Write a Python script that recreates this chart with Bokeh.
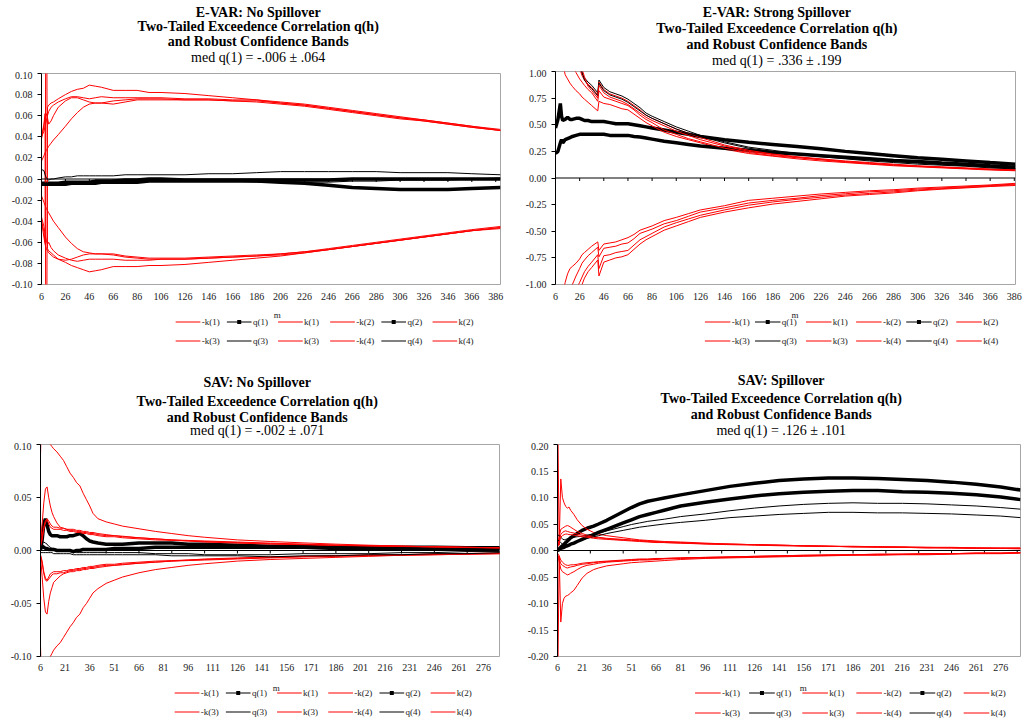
from bokeh.plotting import figure
from bokeh.models import (Range1d, FixedTicker, NumeralTickFormatter, Span, Label)
from bokeh.layouts import column, row
from bokeh.embed import file_html
from bokeh.resources import INLINE
from bokeh.core.properties import value

SERIES = ["-k(1)", "q(1)", "k(1)", "-k(2)", "q(2)", "k(2)",
          "-k(3)", "q(3)", "k(3)", "-k(4)", "q(4)", "k(4)"]

TOP_XTICKS = [6, 26, 46, 66, 86, 106, 126, 146, 166, 186, 206, 226, 246, 266, 286, 306, 326, 346, 366, 386]
BOTTOM_XTICKS = [6, 21, 36, 51, 66, 81, 96, 111, 126, 141, 156, 171, 186, 201, 216, 231, 246, 261, 276]
BOTTOM_XMARKS = [6, 26, 46, 66, 86, 106, 126, 146, 166, 186, 206, 226, 246, 266, 286]
P1_YTICKS = [-0.10, -0.08, -0.06, -0.04, -0.02, 0.0, 0.02, 0.04, 0.06, 0.08, 0.10]
P2_YTICKS = [-1.0, -0.75, -0.5, -0.25, 0.0, 0.25, 0.5, 0.75, 1.0]
P3_YTICKS = [-0.10, -0.05, 0.0, 0.05, 0.10]
P4_YTICKS = [-0.20, -0.15, -0.10, -0.05, 0.0, 0.05, 0.10, 0.15, 0.20]

# ---------------- Panel 1: E-VAR No Spillover ----------------
P1_M = [6, 8, 9, 10, 11, 12, 14, 16, 20, 26, 31, 36, 41, 46, 51, 56, 66, 76, 86, 96, 106, 126, 146, 166, 186, 206, 226, 246, 266, 286, 306, 326, 346, 366, 390]
P1_K1 = [0.040, 0.052, 0.062, -0.30, 0.068, 0.070, 0.072, 0.073, 0.076, 0.080, 0.083, 0.085, 0.086, 0.089, 0.088, 0.087, 0.084, 0.084, 0.084, 0.082, 0.082, 0.081, 0.079, 0.077, 0.075, 0.072, 0.070, 0.067, 0.064, 0.061, 0.058, 0.056, 0.053, 0.050, 0.046]
P1_K2 = [0.040, 0.045, 0.050, 0.055, 0.060, 0.064, 0.068, 0.070, 0.073, 0.076, 0.078, 0.078, 0.077, 0.076, 0.077, 0.078, 0.077, 0.077, 0.077, 0.077, 0.077, 0.076, 0.076, 0.075, 0.075, 0.073, 0.071, 0.068, 0.065, 0.062, 0.059, 0.056, 0.053, 0.050, 0.047]
P1_K3 = [0.038, 0.050, 0.058, 0.062, 0.058, 0.052, 0.055, 0.060, 0.068, 0.074, 0.077, 0.077, 0.075, 0.073, 0.072, 0.072, 0.074, 0.075, 0.076, 0.076, 0.076, 0.075, 0.075, 0.074, 0.074, 0.072, 0.070, 0.067, 0.064, 0.061, 0.058, 0.055, 0.052, 0.049, 0.046]
P1_K4 = [0.017, 0.022, 0.025, 0.027, 0.029, 0.031, 0.034, 0.037, 0.042, 0.050, 0.057, 0.063, 0.068, 0.071, 0.072, 0.072, 0.071, 0.073, 0.075, 0.075, 0.075, 0.075, 0.075, 0.074, 0.073, 0.071, 0.069, 0.066, 0.063, 0.060, 0.057, 0.055, 0.052, 0.049, 0.046]
P1_NK1 = [-0.040, -0.050, -0.060, 0.30, -0.066, -0.068, -0.070, -0.072, -0.076, -0.079, -0.082, -0.084, -0.086, -0.088, -0.087, -0.086, -0.083, -0.083, -0.083, -0.082, -0.082, -0.081, -0.079, -0.077, -0.075, -0.073, -0.070, -0.067, -0.064, -0.061, -0.058, -0.055, -0.052, -0.049, -0.046]
P1_NK2 = [-0.040, -0.055, -0.062, -0.066, -0.068, -0.070, -0.072, -0.074, -0.076, -0.077, -0.076, -0.074, -0.072, -0.071, -0.071, -0.071, -0.072, -0.074, -0.075, -0.076, -0.076, -0.076, -0.075, -0.074, -0.073, -0.071, -0.069, -0.067, -0.064, -0.061, -0.058, -0.055, -0.052, -0.049, -0.047]
P1_NK3 = [-0.036, -0.045, -0.052, -0.058, -0.062, -0.060, -0.065, -0.068, -0.072, -0.075, -0.077, -0.078, -0.077, -0.076, -0.076, -0.076, -0.076, -0.077, -0.077, -0.077, -0.076, -0.076, -0.075, -0.074, -0.073, -0.072, -0.070, -0.067, -0.064, -0.061, -0.058, -0.055, -0.052, -0.049, -0.046]
P1_NK4 = [-0.016, -0.022, -0.025, -0.028, -0.030, -0.032, -0.036, -0.040, -0.046, -0.055, -0.061, -0.066, -0.069, -0.070, -0.071, -0.071, -0.071, -0.073, -0.074, -0.075, -0.075, -0.075, -0.074, -0.073, -0.072, -0.071, -0.069, -0.066, -0.063, -0.060, -0.057, -0.054, -0.051, -0.048, -0.045]
P1_Q1 = [-0.004, -0.004, -0.004, -0.004, -0.004, -0.004, -0.004, -0.004, -0.004, -0.003, -0.003, -0.003, -0.003, -0.003, -0.002, -0.002, -0.002, -0.001, -0.001, 0.000, 0.000, -0.001, -0.001, -0.001, -0.001, -0.001, -0.001, -0.001, 0.000, 0.000, 0.000, 0.000, 0.000, 0.000, 0.000]
P1_Q2 = [-0.005, -0.005, -0.005, -0.005, -0.005, -0.005, -0.005, -0.005, -0.005, -0.005, -0.004, -0.004, -0.004, -0.004, -0.004, -0.003, -0.003, -0.003, -0.003, -0.002, -0.002, -0.002, -0.002, -0.002, -0.002, -0.003, -0.004, -0.006, -0.008, -0.009, -0.010, -0.010, -0.010, -0.009, -0.008]
P1_Q3 = [0.009, 0.008, 0.004, 0.001, 0.000, -0.001, 0.000, 0.000, 0.001, 0.002, 0.002, 0.003, 0.003, 0.003, 0.003, 0.003, 0.003, 0.004, 0.004, 0.004, 0.004, 0.004, 0.005, 0.005, 0.006, 0.007, 0.007, 0.007, 0.007, 0.007, 0.006, 0.006, 0.006, 0.005, 0.004]
P1_Q4 = [-0.006, -0.006, -0.006, -0.006, -0.005, -0.005, -0.005, -0.005, -0.005, -0.005, -0.004, -0.004, -0.004, -0.004, -0.003, -0.003, -0.003, -0.002, -0.002, -0.002, -0.001, -0.001, -0.002, -0.002, -0.003, -0.003, -0.003, -0.003, -0.002, -0.002, -0.001, -0.001, -0.001, 0.000, 0.001]

# ---------------- Panel 2: E-VAR Strong Spillover ----------------
P2_M = [6, 8, 10, 11, 12, 14, 16, 18, 20, 23, 26, 28, 30, 33, 36, 41, 42, 46, 51, 56, 61, 66, 71, 76, 81, 86, 96, 106, 116, 126, 146, 166, 186, 206, 226, 246, 266, 286, 306, 326, 346, 366, 387]
P2_Q1 = [0.47, 0.55, 0.70, 0.58, 0.54, 0.55, 0.57, 0.55, 0.55, 0.56, 0.56, 0.55, 0.54, 0.54, 0.53, 0.53, 0.53, 0.53, 0.52, 0.51, 0.51, 0.51, 0.50, 0.49, 0.48, 0.47, 0.45, 0.43, 0.41, 0.39, 0.36, 0.335, 0.315, 0.295, 0.275, 0.25, 0.23, 0.21, 0.19, 0.175, 0.16, 0.145, 0.13]
P2_Q2 = [0.23, 0.25, 0.33, 0.36, 0.33, 0.36, 0.37, 0.38, 0.39, 0.40, 0.41, 0.41, 0.41, 0.41, 0.41, 0.41, 0.41, 0.41, 0.40, 0.40, 0.40, 0.40, 0.39, 0.385, 0.375, 0.365, 0.345, 0.33, 0.315, 0.30, 0.28, 0.26, 0.24, 0.225, 0.21, 0.195, 0.18, 0.165, 0.155, 0.14, 0.13, 0.115, 0.10]
P2_Q3 = [1.5, 1.5, 1.5, 1.5, 1.5, 1.5, 1.5, 1.4, 1.3, 1.15, 1.05, 0.98, 0.94, 0.90, 0.87, 0.80, 0.92, 0.85, 0.81, 0.79, 0.77, 0.74, 0.70, 0.66, 0.61, 0.58, 0.53, 0.48, 0.44, 0.40, 0.34, 0.29, 0.26, 0.23, 0.205, 0.185, 0.17, 0.155, 0.14, 0.125, 0.115, 0.10, 0.09]
P2_Q4 = [1.5, 1.5, 1.5, 1.5, 1.5, 1.5, 1.5, 1.4, 1.3, 1.2, 1.08, 1.00, 0.92, 0.87, 0.84, 0.77, 0.89, 0.82, 0.78, 0.76, 0.74, 0.71, 0.67, 0.63, 0.59, 0.56, 0.51, 0.46, 0.42, 0.39, 0.33, 0.28, 0.25, 0.22, 0.20, 0.18, 0.16, 0.145, 0.13, 0.12, 0.11, 0.095, 0.085]
P2_K1 = [1.5, 1.4, 1.3, 1.2, 1.08, 0.97, 0.93, 0.89, 0.86, 0.82, 0.79, 0.76, 0.74, 0.71, 0.68, 0.63, 0.72, 0.70, 0.69, 0.67, 0.65, 0.64, 0.60, 0.56, 0.52, 0.49, 0.43, 0.39, 0.36, 0.33, 0.27, 0.23, 0.205, 0.18, 0.16, 0.145, 0.13, 0.115, 0.105, 0.095, 0.085, 0.075, 0.068]
P2_K2 = [1.5, 1.5, 1.5, 1.4, 1.35, 1.25, 1.17, 1.10, 1.05, 0.99, 0.93, 0.90, 0.87, 0.83, 0.80, 0.72, 0.82, 0.76, 0.74, 0.72, 0.70, 0.68, 0.64, 0.59, 0.55, 0.52, 0.45, 0.41, 0.37, 0.34, 0.28, 0.24, 0.21, 0.19, 0.17, 0.15, 0.135, 0.12, 0.11, 0.10, 0.09, 0.08, 0.072]
P2_K3 = [1.5, 1.5, 1.5, 1.5, 1.5, 1.5, 1.5, 1.5, 1.5, 1.2, 1.03, 0.96, 0.92, 0.88, 0.85, 0.78, 0.90, 0.83, 0.79, 0.77, 0.75, 0.72, 0.68, 0.64, 0.59, 0.56, 0.51, 0.46, 0.42, 0.38, 0.31, 0.26, 0.225, 0.20, 0.18, 0.16, 0.145, 0.13, 0.115, 0.105, 0.095, 0.085, 0.078]
P2_K4 = [1.5, 1.5, 1.5, 1.5, 1.5, 1.5, 1.5, 1.5, 1.5, 1.25, 1.10, 1.02, 0.95, 0.86, 0.82, 0.75, 0.87, 0.80, 0.76, 0.74, 0.72, 0.69, 0.65, 0.61, 0.57, 0.54, 0.49, 0.44, 0.40, 0.36, 0.30, 0.25, 0.22, 0.195, 0.175, 0.155, 0.14, 0.125, 0.11, 0.10, 0.09, 0.08, 0.075]
P2_NK1 = [-1.5, -1.4, -1.3, -1.2, -1.1, -0.98, -0.90, -0.85, -0.83, -0.80, -0.76, -0.72, -0.70, -0.67, -0.64, -0.60, -0.68, -0.62, -0.61, -0.60, -0.58, -0.56, -0.53, -0.49, -0.47, -0.45, -0.40, -0.37, -0.335, -0.30, -0.26, -0.21, -0.19, -0.17, -0.15, -0.135, -0.12, -0.11, -0.095, -0.085, -0.075, -0.065, -0.05]
P2_NK2 = [-1.5, -1.5, -1.4, -1.35, -1.3, -1.2, -1.15, -1.1, -1.0, -0.92, -0.85, -0.80, -0.77, -0.73, -0.70, -0.65, -0.74, -0.66, -0.65, -0.64, -0.62, -0.61, -0.57, -0.52, -0.50, -0.48, -0.43, -0.40, -0.36, -0.32, -0.28, -0.235, -0.21, -0.19, -0.165, -0.148, -0.13, -0.12, -0.104, -0.093, -0.082, -0.07, -0.057]
P2_NK3 = [-1.5, -1.5, -1.5, -1.5, -1.4, -1.35, -1.3, -1.2, -1.12, -1.05, -0.98, -0.93, -0.88, -0.83, -0.79, -0.72, -0.85, -0.73, -0.72, -0.70, -0.69, -0.68, -0.63, -0.58, -0.55, -0.52, -0.46, -0.42, -0.385, -0.35, -0.30, -0.255, -0.225, -0.20, -0.18, -0.16, -0.145, -0.13, -0.113, -0.10, -0.088, -0.076, -0.063]
P2_NK4 = [-1.5, -1.5, -1.5, -1.5, -1.5, -1.45, -1.4, -1.3, -1.2, -1.12, -1.05, -1.0, -0.94, -0.88, -0.84, -0.77, -0.92, -0.79, -0.77, -0.75, -0.74, -0.72, -0.67, -0.62, -0.58, -0.55, -0.49, -0.45, -0.41, -0.37, -0.32, -0.28, -0.245, -0.22, -0.195, -0.17, -0.155, -0.14, -0.12, -0.105, -0.093, -0.08, -0.07]

# ---------------- Panel 3: SAV No Spillover ----------------
P3_M = [6, 7, 8, 9, 10, 11, 12, 13, 14, 16, 18, 20, 22, 24, 26, 28, 30, 32, 34, 36, 38, 41, 46, 51, 56, 66, 76, 86, 96, 106, 126, 146, 166, 186, 206, 226, 246, 266, 286]
P3_K1 = [0.09, 0.15, 0.14, 0.13, 0.12, 0.11, 0.100, 0.098, 0.096, 0.093, 0.089, 0.085, 0.079, 0.073, 0.069, 0.064, 0.061, 0.054, 0.048, 0.042, 0.035, 0.030, 0.027, 0.025, 0.023, 0.0205, 0.018, 0.016, 0.014, 0.0125, 0.010, 0.0085, 0.0072, 0.006, 0.005, 0.0042, 0.0035, 0.003, 0.0026]
P3_K2 = [0.006, 0.025, 0.045, 0.058, 0.060, 0.050, 0.042, 0.036, 0.032, 0.026, 0.022, 0.021, 0.020, 0.020, 0.020, 0.019, 0.019, 0.018, 0.018, 0.017, 0.017, 0.016, 0.015, 0.014, 0.0135, 0.012, 0.011, 0.010, 0.0095, 0.009, 0.008, 0.007, 0.006, 0.005, 0.0045, 0.004, 0.0035, 0.003, 0.0025]
P3_K3 = [0.005, 0.012, 0.022, 0.028, 0.030, 0.028, 0.025, 0.023, 0.022, 0.022, 0.021, 0.021, 0.020, 0.019, 0.019, 0.018, 0.018, 0.017, 0.017, 0.016, 0.016, 0.015, 0.014, 0.014, 0.013, 0.012, 0.011, 0.010, 0.009, 0.0085, 0.0075, 0.0065, 0.0058, 0.005, 0.0045, 0.004, 0.0035, 0.003, 0.0026]
P3_K4 = [0.004, 0.010, 0.020, 0.026, 0.029, 0.025, 0.022, 0.021, 0.020, 0.020, 0.020, 0.019, 0.019, 0.018, 0.018, 0.017, 0.017, 0.016, 0.016, 0.015, 0.015, 0.014, 0.013, 0.013, 0.012, 0.011, 0.010, 0.0095, 0.009, 0.008, 0.007, 0.006, 0.0055, 0.0048, 0.0043, 0.0038, 0.0033, 0.0028, 0.0024]
P3_NK1 = [-0.09, -0.15, -0.14, -0.13, -0.12, -0.11, -0.100, -0.097, -0.094, -0.090, -0.087, -0.082, -0.077, -0.072, -0.068, -0.063, -0.060, -0.054, -0.050, -0.045, -0.040, -0.036, -0.031, -0.028, -0.025, -0.021, -0.018, -0.016, -0.014, -0.0125, -0.010, -0.0085, -0.0075, -0.0065, -0.0055, -0.0045, -0.004, -0.0035, -0.003]
P3_NK2 = [-0.005, -0.025, -0.045, -0.058, -0.060, -0.048, -0.040, -0.035, -0.030, -0.027, -0.024, -0.022, -0.021, -0.020, -0.020, -0.019, -0.019, -0.018, -0.018, -0.017, -0.017, -0.016, -0.015, -0.014, -0.0135, -0.012, -0.011, -0.010, -0.0095, -0.009, -0.008, -0.007, -0.006, -0.0055, -0.005, -0.0045, -0.004, -0.0035, -0.003]
P3_NK3 = [-0.005, -0.012, -0.022, -0.028, -0.029, -0.027, -0.025, -0.023, -0.022, -0.022, -0.021, -0.021, -0.020, -0.019, -0.019, -0.018, -0.018, -0.017, -0.017, -0.016, -0.016, -0.015, -0.014, -0.014, -0.013, -0.012, -0.011, -0.010, -0.009, -0.0085, -0.0075, -0.0065, -0.0058, -0.005, -0.0045, -0.004, -0.0035, -0.003, -0.0026]
P3_NK4 = [-0.004, -0.010, -0.020, -0.026, -0.028, -0.025, -0.022, -0.021, -0.020, -0.020, -0.020, -0.019, -0.019, -0.018, -0.018, -0.017, -0.017, -0.016, -0.016, -0.015, -0.015, -0.014, -0.013, -0.013, -0.012, -0.011, -0.010, -0.0095, -0.009, -0.008, -0.007, -0.006, -0.0055, -0.0048, -0.0043, -0.0038, -0.0033, -0.0028, -0.0024]
P3_Q1 = [0.000, 0.010, 0.025, 0.030, 0.024, 0.018, 0.015, 0.014, 0.014, 0.014, 0.013, 0.013, 0.013, 0.014, 0.014, 0.015, 0.016, 0.014, 0.011, 0.009, 0.008, 0.007, 0.006, 0.006, 0.006, 0.007, 0.007, 0.007, 0.006, 0.006, 0.005, 0.004, 0.004, 0.0035, 0.003, 0.003, 0.003, 0.0025, 0.0025]
P3_Q2 = [0.002, 0.004, 0.003, 0.002, 0.002, 0.001, 0.001, 0.001, 0.001, 0.000, 0.000, 0.000, 0.000, 0.000, -0.001, 0.000, 0.000, 0.001, 0.001, 0.001, 0.001, 0.001, 0.001, 0.002, 0.002, 0.002, 0.003, 0.003, 0.003, 0.003, 0.003, 0.003, 0.003, 0.002, 0.002, 0.002, 0.002, 0.002, 0.002]
P3_Q3 = [0.005, 0.007, 0.008, 0.007, 0.006, 0.004, 0.003, 0.002, 0.002, 0.001, 0.001, 0.000, 0.000, -0.001, -0.001, -0.002, -0.002, -0.002, -0.002, -0.002, -0.002, -0.002, -0.002, -0.002, -0.002, -0.002, -0.003, -0.003, -0.003, -0.004, -0.004, -0.004, -0.003, -0.003, -0.003, -0.002, -0.002, -0.001, -0.001]
P3_Q4 = [-0.002, -0.002, -0.002, -0.002, -0.002, -0.002, -0.002, -0.002, -0.003, -0.003, -0.003, -0.003, -0.003, -0.003, -0.004, -0.004, -0.004, -0.004, -0.004, -0.004, -0.004, -0.004, -0.004, -0.004, -0.004, -0.004, -0.004, -0.005, -0.005, -0.005, -0.005, -0.006, -0.005, -0.005, -0.004, -0.004, -0.003, -0.003, -0.002]

# ---------------- Panel 4: SAV Spillover ----------------
P4_M = [6, 7, 8, 9, 10, 11, 12, 13, 14, 16, 18, 21, 24, 28, 31, 36, 41, 46, 51, 56, 61, 66, 71, 81, 96, 111, 126, 141, 156, 171, 186, 201, 216, 231, 246, 261, 276, 288]
P4_Q1 = [0.000, 0.003, 0.006, 0.009, 0.012, 0.015, 0.018, 0.021, 0.024, 0.028, 0.032, 0.038, 0.042, 0.046, 0.050, 0.057, 0.065, 0.073, 0.081, 0.088, 0.093, 0.096, 0.099, 0.105, 0.113, 0.121, 0.127, 0.132, 0.135, 0.137, 0.137, 0.136, 0.134, 0.132, 0.129, 0.125, 0.120, 0.114]
P4_Q2 = [0.000, 0.002, 0.004, 0.005, 0.006, 0.008, 0.009, 0.010, 0.012, 0.014, 0.017, 0.021, 0.025, 0.030, 0.034, 0.040, 0.046, 0.052, 0.058, 0.064, 0.068, 0.072, 0.076, 0.084, 0.091, 0.097, 0.103, 0.107, 0.110, 0.112, 0.113, 0.113, 0.111, 0.110, 0.108, 0.105, 0.101, 0.096]
P4_Q3 = [0.030, 0.028, 0.025, 0.022, 0.020, 0.021, 0.022, 0.023, 0.024, 0.025, 0.026, 0.027, 0.029, 0.031, 0.033, 0.037, 0.041, 0.045, 0.049, 0.052, 0.055, 0.057, 0.059, 0.064, 0.069, 0.075, 0.080, 0.084, 0.087, 0.089, 0.090, 0.089, 0.089, 0.088, 0.086, 0.084, 0.081, 0.078]
P4_Q4 = [0.020, 0.018, 0.015, 0.012, 0.010, 0.010, 0.011, 0.012, 0.013, 0.015, 0.017, 0.020, 0.023, 0.026, 0.028, 0.032, 0.035, 0.038, 0.041, 0.044, 0.046, 0.048, 0.050, 0.053, 0.057, 0.062, 0.065, 0.068, 0.070, 0.072, 0.072, 0.071, 0.071, 0.070, 0.069, 0.067, 0.065, 0.062]
P4_K1 = [0.30, 0.01, 0.135, 0.10, 0.090, 0.083, 0.080, 0.082, 0.076, 0.068, 0.058, 0.047, 0.040, 0.034, 0.031, 0.028, 0.026, 0.024, 0.022, 0.020, 0.019, 0.018, 0.017, 0.016, 0.014, 0.012, 0.011, 0.010, 0.009, 0.008, 0.008, 0.007, 0.007, 0.006, 0.006, 0.005, 0.005, 0.005]
P4_K2 = [0.010, 0.025, 0.040, 0.042, 0.044, 0.046, 0.047, 0.046, 0.044, 0.040, 0.036, 0.032, 0.029, 0.026, 0.025, 0.023, 0.022, 0.021, 0.020, 0.019, 0.018, 0.017, 0.016, 0.015, 0.013, 0.012, 0.011, 0.010, 0.009, 0.008, 0.007, 0.007, 0.006, 0.006, 0.005, 0.005, 0.004, 0.004]
P4_K3 = [0.008, 0.018, 0.030, 0.034, 0.036, 0.037, 0.036, 0.035, 0.034, 0.033, 0.031, 0.029, 0.027, 0.025, 0.024, 0.022, 0.021, 0.020, 0.019, 0.018, 0.017, 0.016, 0.015, 0.014, 0.013, 0.012, 0.011, 0.010, 0.009, 0.008, 0.007, 0.007, 0.006, 0.005, 0.005, 0.004, 0.004, 0.004]
P4_K4 = [0.006, 0.014, 0.025, 0.028, 0.030, 0.031, 0.031, 0.030, 0.030, 0.029, 0.028, 0.026, 0.025, 0.023, 0.022, 0.021, 0.020, 0.019, 0.018, 0.017, 0.016, 0.015, 0.015, 0.014, 0.012, 0.011, 0.010, 0.009, 0.008, 0.008, 0.007, 0.006, 0.006, 0.005, 0.005, 0.004, 0.004, 0.003]
P4_NK1 = [-0.30, -0.01, -0.135, -0.10, -0.090, -0.086, -0.085, -0.083, -0.080, -0.075, -0.066, -0.052, -0.043, -0.036, -0.033, -0.029, -0.027, -0.025, -0.023, -0.022, -0.021, -0.020, -0.019, -0.017, -0.015, -0.014, -0.013, -0.012, -0.011, -0.010, -0.009, -0.009, -0.008, -0.008, -0.007, -0.006, -0.006, -0.005]
P4_NK2 = [-0.010, -0.020, -0.035, -0.040, -0.042, -0.044, -0.046, -0.045, -0.043, -0.040, -0.036, -0.031, -0.028, -0.026, -0.024, -0.022, -0.021, -0.020, -0.019, -0.018, -0.018, -0.017, -0.016, -0.015, -0.014, -0.013, -0.012, -0.011, -0.010, -0.009, -0.008, -0.008, -0.007, -0.007, -0.006, -0.005, -0.005, -0.004]
P4_NK3 = [-0.008, -0.015, -0.025, -0.028, -0.030, -0.032, -0.033, -0.032, -0.031, -0.030, -0.028, -0.026, -0.025, -0.023, -0.022, -0.021, -0.020, -0.019, -0.018, -0.017, -0.017, -0.016, -0.015, -0.014, -0.013, -0.012, -0.011, -0.010, -0.009, -0.009, -0.008, -0.007, -0.007, -0.006, -0.006, -0.005, -0.005, -0.004]
P4_NK4 = [-0.005, -0.010, -0.018, -0.022, -0.025, -0.027, -0.028, -0.028, -0.027, -0.027, -0.026, -0.024, -0.023, -0.022, -0.021, -0.020, -0.019, -0.018, -0.017, -0.016, -0.016, -0.015, -0.015, -0.014, -0.013, -0.012, -0.011, -0.010, -0.009, -0.008, -0.008, -0.007, -0.007, -0.006, -0.006, -0.005, -0.005, -0.004]

TITLE_2 = "Two-Tailed Exceedence Correlation q(h)"
TITLE_3 = "and Robust Confidence Bands"

SERIF = "Liberation Serif"
RED = "#ff0000"
TXT = "#1a1a1a"


def blank_fig(W, H):
    f = figure(width=W, height=H, x_range=Range1d(0, W), y_range=Range1d(H, 0),
               output_backend="svg", toolbar_location=None, title_location=None,
               x_axis_location=None, y_axis_location=None,
               min_border_left=0, min_border_right=0, min_border_top=0, min_border_bottom=0,
               outline_line_color=None, background_fill_color="white",
               border_fill_color="white")
    f.grid.visible = False
    return f


def make_header(cfg):
    W, H = cfg["width"], cfg["header_h"]
    f = blank_fig(W, H)
    texts = [cfg["title1"], TITLE_2, TITLE_3, cfg["med"]]
    for j, (t, ty) in enumerate(zip(texts, cfg["title_y"])):
        f.add_layout(Label(x=cfg["title_cx"], y=ty, text=t,
                           text_align="center", text_baseline="middle",
                           text_font=SERIF, text_font_size="14px",
                           text_font_style="bold" if j < 3 else "normal",
                           text_color="black"))
    return f


def make_footer(cfg):
    """Excel-style legend: two rows of six swatches with labels, plus the 'm' axis title."""
    W, H = cfg["width"], cfg["footer_h"]
    f = blank_fig(W, H)
    mx, my = cfg["m_label"]
    f.add_layout(Label(x=mx, y=my, text="m", text_align="center", text_baseline="middle",
                       text_font=SERIF, text_font_size="9px", text_color=TXT))
    left, pitch = cfg["legend_left"], cfg["legend_pitch"]
    rows = cfg["legend_rows"]
    faded = cfg["faded"]
    ql, qr, qt, qb, qc = [], [], [], [], []
    tx, ty, tt = [], [], []
    mk_x, mk_y = [], []
    for idx, name in enumerate(SERIES):
        r, c = divmod(idx, 6)
        x0 = round(left + c * pitch)
        y = rows[r]
        num = int(name[-2])
        is_q = name.startswith("q")
        if num <= 2 or not faded:
            col = "black" if is_q else RED
            top, bot = y, y + 1          # one crisp pixel row
        else:
            col = "#808080" if is_q else "#ff8080"
            top, bot = y - 0.5, y + 1.5  # two pixel rows
        ql.append(x0)
        qr.append(x0 + 28)
        qt.append(top)
        qb.append(bot)
        qc.append(col)
        if is_q and num <= 2:
            mk_x.append(x0 + 14)
            mk_y.append(y + 0.5)
        tx.append(x0 + 29.5)
        ty.append(y + 0.5)
        tt.append(name)
    f.quad(left=ql, right=qr, top=qt, bottom=qb, fill_color=qc, line_color=None)
    f.scatter(x=mk_x, y=mk_y, marker="square", size=4, fill_color="black", line_color=None)
    f.text(x=tx, y=ty, text=tt, text_font=value(SERIF), text_font_size=value("9px"),
           text_align="left", text_baseline="middle", text_color=TXT)
    return f


def make_main(cfg):
    W = cfg["width"]
    bl, br, bt, bb = cfg["borders"]
    fh = cfg["frame_h"]
    H = bt + fh + bb
    p = figure(width=W, height=H, x_range=Range1d(*cfg["xr"]), y_range=Range1d(*cfg["yr"]),
               output_backend="svg", toolbar_location=None, title_location=None,
               min_border_left=bl, min_border_right=br, min_border_top=bt, min_border_bottom=bb,
               background_fill_color="white", border_fill_color="white",
               outline_line_color="#a6a6a6", outline_line_width=1)
    p.grid.visible = False

    xa = p.xaxis[0]
    xa.ticker = FixedTicker(ticks=cfg["xticks"])
    xa.axis_line_color = None
    xa.major_tick_line_color = None
    xa.minor_tick_line_color = None
    xa.major_tick_out = 0
    xa.major_tick_in = 0
    xa.major_label_standoff = cfg["xstandoff"]
    xa.major_label_text_font = SERIF
    xa.major_label_text_font_size = "10px"
    xa.major_label_text_color = TXT

    ya = p.yaxis[0]
    ya.ticker = FixedTicker(ticks=cfg["yticks"])
    ya.formatter = NumeralTickFormatter(format="0.00")
    ya.axis_line_color = "black"
    ya.major_tick_line_color = "black"
    ya.major_tick_out = 4
    ya.major_tick_in = 0
    ya.minor_tick_line_color = None
    ya.major_label_standoff = 5
    ya.major_label_text_font = SERIF
    ya.major_label_text_font_size = "10px"
    ya.major_label_text_color = TXT

    # category axis crossing at zero, with its tick marks
    p.add_layout(Span(location=0, dimension="width", line_color="black", line_width=1))
    d = 3.0 * (cfg["yr"][1] - cfg["yr"][0]) / fh
    marks = cfg["xmarks"]
    p.segment(x0=marks, y0=[0] * len(marks), x1=marks, y1=[-d] * len(marks),
              line_color="black", line_width=1)

    m = cfg["m"]
    data = cfg["data"]
    for i in range(1, 5):
        p.line(m, data["-k(%d)" % i], line_color=RED, line_width=1)
        p.line(m, data["q(%d)" % i], line_color="black",
               line_width=3.5 if i <= 2 else 1)
        p.line(m, data["k(%d)" % i], line_color=RED, line_width=1)
    return p


def series_dict(nk1, q1, k1, nk2, q2, k2, nk3, q3, k3, nk4, q4, k4):
    return dict(zip(SERIES, [nk1, q1, k1, nk2, q2, k2, nk3, q3, k3, nk4, q4, k4]))


cfg1 = dict(width=520, header_h=71, borders=(41, 20, 2, 21), frame_h=211, footer_h=63,
            xr=(6, 390), yr=(-0.1, 0.1),
            xticks=TOP_XTICKS, xmarks=TOP_XTICKS, yticks=P1_YTICKS, xstandoff=8,
            m=P1_M,
            data=series_dict(P1_NK1, P1_Q1, P1_K1, P1_NK2, P1_Q2, P1_K2,
                             P1_NK3, P1_Q3, P1_K3, P1_NK4, P1_Q4, P1_K4),
            title1="E-VAR: No Spillover", med="med q(1) = -.006 \u00b1 .064",
            title_cx=245.5, title_y=[12, 25.5, 41, 57], m_label=(267, 9),
            legend_left=152, legend_pitch=58.2, legend_rows=[16, 35], faded=True)

cfg2 = dict(width=505, header_h=69, borders=(35, 10, 2, 21), frame_h=213, footer_h=63,
            xr=(6, 387), yr=(-1.0, 1.0),
            xticks=TOP_XTICKS, xmarks=TOP_XTICKS, yticks=P2_YTICKS, xstandoff=8,
            m=P2_M,
            data=series_dict(P2_NK1, P2_Q1, P2_K1, P2_NK2, P2_Q2, P2_K2,
                             P2_NK3, P2_Q3, P2_K3, P2_NK4, P2_Q4, P2_K4),
            title1="E-VAR: Strong Spillover", med="med q(1) = .336 \u00b1 .199",
            title_cx=243, title_y=[12.3, 28, 44, 60], m_label=(263, 9),
            legend_left=164, legend_pitch=55.3, legend_rows=[16, 35], faded=False)

cfg3 = dict(width=520, header_h=74, borders=(40, 21, 2, 18), frame_h=212, footer_h=51,
            xr=(6, 285.7), yr=(-0.1, 0.1),
            xticks=BOTTOM_XTICKS, xmarks=BOTTOM_XMARKS, yticks=P3_YTICKS, xstandoff=7,
            m=P3_M,
            data=series_dict(P3_NK1, P3_Q1, P3_K1, P3_NK2, P3_Q2, P3_K2,
                             P3_NK3, P3_Q3, P3_K3, P3_NK4, P3_Q4, P3_K4),
            title1="SAV: No Spillover", med="med q(1) = -.002 \u00b1 .071",
            title_cx=245.5, title_y=[14.3, 33, 49, 62.3], m_label=(267, 13),
            legend_left=152, legend_pitch=58, legend_rows=[18, 37], faded=True)

cfg4 = dict(width=505, header_h=74, borders=(37, 5, 2, 18), frame_h=212, footer_h=51,
            xr=(6, 288), yr=(-0.2, 0.2),
            xticks=BOTTOM_XTICKS, xmarks=BOTTOM_XMARKS, yticks=P4_YTICKS, xstandoff=7,
            m=P4_M,
            data=series_dict(P4_NK1, P4_Q1, P4_K1, P4_NK2, P4_Q2, P4_K2,
                             P4_NK3, P4_Q3, P4_K3, P4_NK4, P4_Q4, P4_K4),
            title1="SAV: Spillover", med="med q(1) = .126 \u00b1 .101",
            title_cx=244, title_y=[12, 30, 46, 62.3], m_label=(268, 13),
            legend_left=150, legend_pitch=58.6, legend_rows=[18, 38], faded=True)


def panel(cfg):
    return column(make_header(cfg), make_main(cfg), make_footer(cfg), spacing=0)


layout = column(row(panel(cfg1), panel(cfg2), spacing=0),
                row(panel(cfg3), panel(cfg4), spacing=0), spacing=0)

with open("out.html", "w") as f:
    f.write(file_html(layout, INLINE))
